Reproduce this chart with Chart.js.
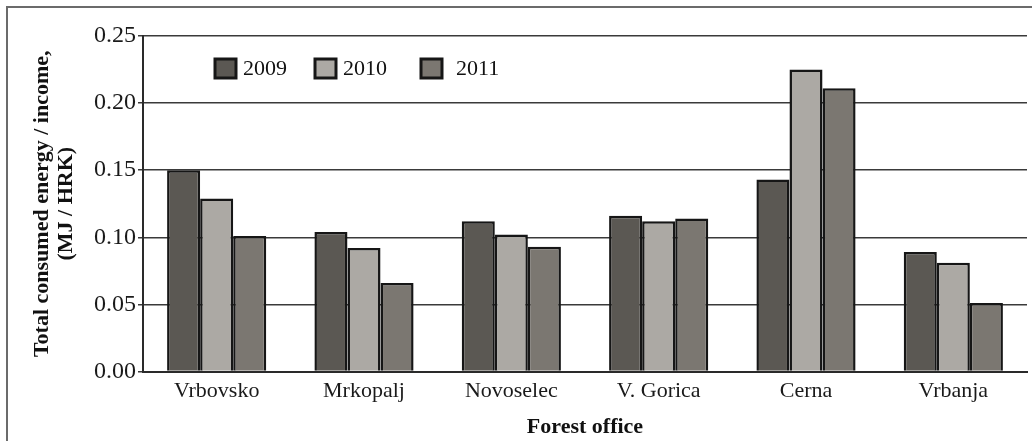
<!DOCTYPE html>
<html>
<head>
<meta charset="utf-8">
<script src="https://cdn.jsdelivr.net/npm/chart.js@4/dist/chart.umd.min.js"></script>
<style>
  html, body { margin: 0; padding: 0; background: #fff; }
  #wrap { position: relative; width: 1032px; height: 441px; }
</style>
</head>
<body>
<div id="wrap"><canvas id="chart" width="1032" height="441"></canvas></div>
<script>
// forest offices and yearly ratios
var offices = ['Vrbovsko', 'Mrkopalj', 'Novoselec', 'V. Gorica', 'Cerna', 'Vrbanja'];
var years   = ['2009', '2010', '2011'];
var y2009   = [0.150, 0.104, 0.112, 0.116, 0.143, 0.089];
var y2010   = [0.129, 0.092, 0.102, 0.112, 0.225, 0.081];
var y2011   = [0.101, 0.066, 0.093, 0.114, 0.211, 0.051];
var yTicks  = [0, 0.05, 0.10, 0.15, 0.20, 0.25];

var FILLS  = ['#5b5853', '#aca9a4', '#7b7771'];
var EDGE   = '#161616';
var SERIF  = "'Liberation Serif', 'DejaVu Serif', serif";

// thin grey frame round the figure, cut off at right and bottom like the source
var framePlugin = {
    id: 'frame',
    beforeDraw: function (chart) {
        var c = chart.ctx;
        c.save();
        c.strokeStyle = '#6b6b6b';
        c.lineWidth = 2;
        c.beginPath();
        c.moveTo(7, chart.height + 5);
        c.lineTo(7, 7);
        c.lineTo(chart.width + 5, 7);
        c.stroke();
        c.restore();
    }
};

// legend drawn inside the plot, top left
var legendPlugin = {
    id: 'insideLegend',
    afterDraw: function (chart) {
        var c = chart.ctx;
        var xs = [215, 315, 421];
        var tx = [243, 343, 456];
        c.save();
        c.font = '22px ' + SERIF;
        c.textBaseline = 'middle';
        chart.data.datasets.forEach(function (ds, i) {
            c.fillStyle = ds.backgroundColor;
            c.fillRect(xs[i], 59, 21, 19);
            c.strokeStyle = EDGE;
            c.lineWidth = 3;
            c.strokeRect(xs[i], 59, 21, 19);
            c.fillStyle = '#111';
            c.fillText(ds.label, tx[i], 69);
        });
        c.restore();
    }
};

new Chart(document.getElementById('chart'), {
    type: 'bar',
    data: {
        labels: offices,
        datasets: [
            { label: years[0], data: y2009, backgroundColor: FILLS[0] },
            { label: years[1], data: y2010, backgroundColor: FILLS[1] },
            { label: years[2], data: y2011, backgroundColor: FILLS[2] }
        ].map(function (d) {
            d.borderColor = EDGE;
            d.borderWidth = 2.5;
            d.borderSkipped = 'bottom';
            d.categoryPercentage = 0.673;
            d.barPercentage = 1.0;
            return d;
        })
    },
    options: {
        responsive: false,
        animation: false,
        layout: { padding: { top: 36, right: 5, left: 0, bottom: 0 } },
        plugins: {
            legend: { display: false },
            tooltip: { enabled: false }
        },
        scales: {
            x: {
                afterFit: function (s) { s.height = 69.5; },
                grid: { display: false, drawTicks: false },
                border: { display: true, color: '#2a2a2a', width: 2 },
                ticks: { color: '#1a1a1a', padding: 7, font: { family: SERIF, size: 22 } },
                title: {
                    display: true,
                    text: 'Forest office',
                    color: '#111',
                    padding: { top: 2, bottom: 0 },
                    font: { family: SERIF, size: 22, weight: 'bold' }
                }
            },
            y: {
                min: 0,
                max: 0.25,
                afterFit: function (s) { s.width = 143; },
                afterBuildTicks: function (s) {
                    s.ticks = yTicks.map(function (v) { return { value: v }; });
                },
                grid: { color: '#3a3a3a', lineWidth: 1.5, tickLength: 5 },
                border: { display: true, color: '#2a2a2a', width: 2 },
                ticks: {
                    color: '#1a1a1a',
                    padding: 2,
                    font: { family: SERIF, size: 24 },
                    callback: function (v) { return Number(v).toFixed(2); }
                },
                title: {
                    display: true,
                    text: ['Total consumed energy / income,', '(MJ / HRK)'],
                    color: '#111',
                    padding: { top: 30, bottom: 4 },
                    font: { family: SERIF, size: 22, weight: 'bold', lineHeight: 1.1 }
                }
            }
        }
    },
    plugins: [framePlugin, legendPlugin]
});
</script>
</body>
</html>
